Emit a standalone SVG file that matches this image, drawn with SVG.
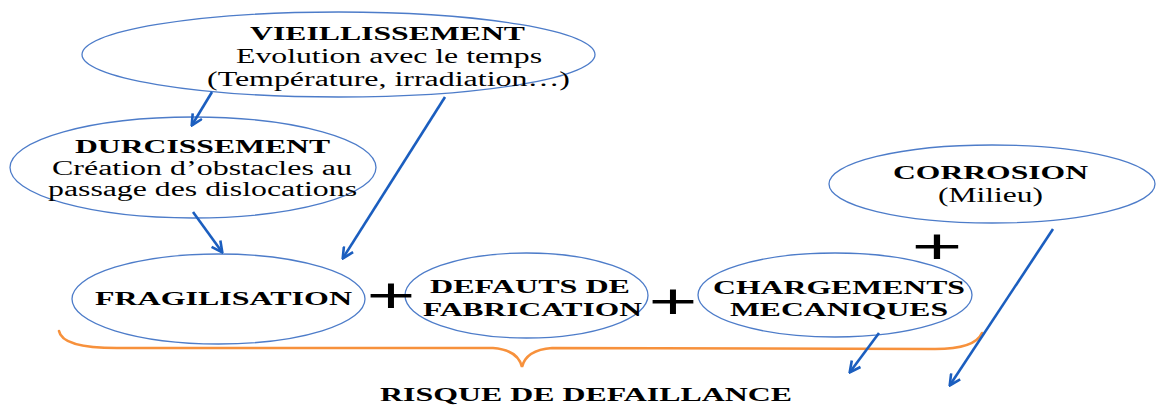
<svg xmlns="http://www.w3.org/2000/svg" width="1158" height="408" viewBox="0 0 1158 408">
  <style>
    .node ellipse { fill: #ffffff; stroke: #4d7cc9; stroke-width: 1.3; }
    .t { font-family: "Liberation Serif", "Times New Roman", serif; fill: #000000; text-anchor: middle; }
    .b { font-weight: bold; font-size: 19px; }
    .r { font-size: 20px; }
    .plus { font-family: "Liberation Sans", Arial, sans-serif; font-size: 50px; fill: #000000; text-anchor: middle; }
    .arrow { stroke: #1b5ebf; stroke-width: 2.6; fill: none; marker-end: url(#head); }
    .brace { stroke: #f7913c; stroke-width: 2.6; fill: none; stroke-linecap: round; }
  </style>
  <defs>
    <marker id="head" markerUnits="userSpaceOnUse" viewBox="0 0 12 12" markerWidth="13" markerHeight="13" refX="10.5" refY="6" orient="auto">
      <path d="M1,1 L11,6 L1,11" fill="none" stroke="#1b5ebf" stroke-width="2.4"/>
    </marker>
  </defs>
  <rect width="1158" height="408" fill="#ffffff"/>

  <g id="vieillissement" class="node">
    <ellipse cx="338.5" cy="54.5" rx="256.5" ry="42.5"/>
    <text class="t b" x="387.5" y="40" textLength="275" lengthAdjust="spacingAndGlyphs">VIEILLISSEMENT</text>
    <text class="t r" x="389" y="63" textLength="306" lengthAdjust="spacingAndGlyphs">Evolution avec le temps</text>
    <text class="t r" x="388.5" y="86" textLength="363" lengthAdjust="spacingAndGlyphs">(Température, irradiation…)</text>
  </g>

  <g id="durcissement" class="node">
    <ellipse cx="193" cy="167.5" rx="183" ry="50.5"/>
    <text class="t b" x="202.5" y="153" textLength="255" lengthAdjust="spacingAndGlyphs">DURCISSEMENT</text>
    <text class="t r" x="202" y="175" textLength="300" lengthAdjust="spacingAndGlyphs">Création d’obstacles au</text>
    <text class="t r" x="202.5" y="196" textLength="309" lengthAdjust="spacingAndGlyphs">passage des dislocations</text>
  </g>

  <g id="fragilisation" class="node">
    <ellipse cx="218.5" cy="299" rx="146.5" ry="45"/>
    <text class="t b" x="223.5" y="305" textLength="257" lengthAdjust="spacingAndGlyphs">FRAGILISATION</text>
  </g>

  <g id="defauts" class="node">
    <ellipse cx="526.5" cy="295.5" rx="121.5" ry="42.5"/>
    <text class="t b" x="530" y="293" textLength="200" lengthAdjust="spacingAndGlyphs">DEFAUTS DE</text>
    <text class="t b" x="532.5" y="316" textLength="219" lengthAdjust="spacingAndGlyphs">FABRICATION</text>
  </g>

  <g id="chargements" class="node">
    <ellipse cx="835" cy="295" rx="137" ry="42"/>
    <text class="t b" x="839" y="294" textLength="252" lengthAdjust="spacingAndGlyphs">CHARGEMENTS</text>
    <text class="t b" x="839" y="316" textLength="218" lengthAdjust="spacingAndGlyphs">MECANIQUES</text>
  </g>

  <g id="corrosion" class="node">
    <ellipse cx="992" cy="184" rx="163" ry="39"/>
    <text class="t b" x="990.5" y="179" textLength="195" lengthAdjust="spacingAndGlyphs">CORROSION</text>
    <text class="t r" x="990.5" y="202" textLength="105" lengthAdjust="spacingAndGlyphs">(Milieu)</text>
  </g>

  <g id="operators">
    <text class="plus" x="391" y="312" textLength="49" lengthAdjust="spacingAndGlyphs">+</text>
    <text class="plus" x="673" y="318" textLength="49" lengthAdjust="spacingAndGlyphs">+</text>
    <text class="plus" x="937" y="263" textLength="51" lengthAdjust="spacingAndGlyphs">+</text>
  </g>

  <g id="risque">
    <path class="brace" d="M59,331 Q62,348 117,348 L493,348 Q518,350 522,367 Q526,350 552,348 L935,349 Q975,349 982,333"/>
    <text class="t b" x="586" y="401" textLength="412" lengthAdjust="spacingAndGlyphs">RISQUE DE DEFAILLANCE</text>
  </g>

  <g id="connectors">
    <line class="arrow" x1="212" y1="92" x2="192" y2="125"/>
    <line class="arrow" x1="193" y1="212" x2="222" y2="252"/>
    <line class="arrow" x1="445" y1="97" x2="343" y2="258"/>
    <line class="arrow" x1="879" y1="333" x2="850" y2="372"/>
    <line class="arrow" x1="1053" y1="229" x2="950" y2="385"/>
  </g>
</svg>
